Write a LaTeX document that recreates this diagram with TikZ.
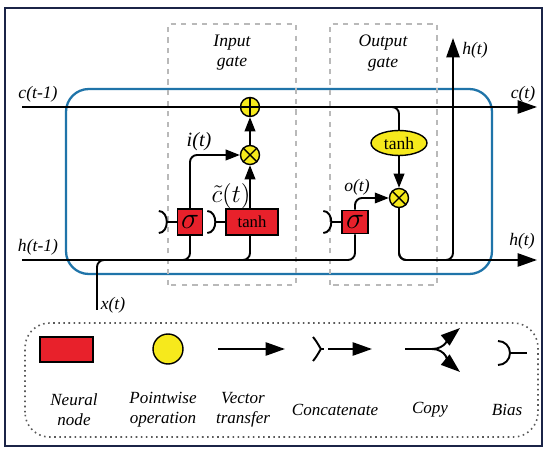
\documentclass[tikz,border=0pt]{standalone}
\usepackage{fontspec}
\setmainfont{Liberation Serif}
\usetikzlibrary{calc,arrows.meta,shapes.geometric}
\definecolor{nodered}{HTML}{E8212B}
\definecolor{opyellow}{HTML}{F6E91C}
\definecolor{cellblue}{HTML}{1F74A9}
\definecolor{framenavy}{HTML}{1B2447}
\newcommand{\biasmark}[3]{\draw[line width=1.1pt] ($(#1)+(-#2,#3)$) to[out=0,in=90] (#1) to[out=-90,in=0] ($(#1)+(-#2,-#3)$);}
\newcommand{\sgm}{\fontsize{16}{16}\selectfont$\sigma$}

\begin{document}
\begin{tikzpicture}[x=0.02cm, y=0.02cm,
        neural/.style={draw=black, fill=nodered, line width=0.8pt, minimum height=0.52cm, inner sep=0pt},
        pointwise/.style={circle, draw=black, fill=opyellow, line width=0.8pt, minimum size=0.38cm, inner sep=0pt},
        flow/.style={line width=1.1pt, rounded corners=4pt},
        tip/.style={-{Triangle[length=8pt,width=6pt]}},
        bigtip/.style={-{Triangle[length=11pt,width=7.5pt]}},
        gate/.style={draw=gray!55, dashed, line width=0.9pt},
        lbl/.style={font=\itshape\fontsize{10}{11}\selectfont, inner sep=1pt},
        caption/.style={align=center, font=\itshape\fontsize{9.7}{11.4}\selectfont},
    ]

    % Frame
    \useasboundingbox (0,0) rectangle (550,456);
    \fill[white] (0,0) rectangle (550,456);
    \draw[framenavy, line width=1.6pt] (5,10) rectangle (542,448);

    % Cell and gates
    \draw[cellblue, line width=1.3pt, rounded corners=13pt] (66,182) rectangle (492,367);
    \draw[gate] (168,171) rectangle (296,432);
    \draw[gate] (330,171) rectangle (437,432);
    \node[caption, font=\itshape\fontsize{10}{11.5}\selectfont] (ingate) at (232,403) {Input\\gate};
    \node[caption, font=\itshape\fontsize{10}{11.5}\selectfont] (outgate) at (383,403) {Output\\gate};

    % Nodes
    \node[pointwise] (plus) at (250,349) {};
    \node[pointwise] (mul1) at (250,301) {};
    \node[neural, minimum width=1.04cm] (tanh1) at (252,234) {\fontsize{9.5}{10}\selectfont tanh};
    \node[neural, minimum width=0.5cm] (sig1) at (190,234) {\sgm};
    \node[neural, minimum width=0.52cm, minimum height=0.47cm] (sig2) at (355,234) {\sgm};
    \node[pointwise] (mul2) at (399,258) {};
    \node[ellipse, draw=black, fill=opyellow, line width=0.8pt, minimum width=1.12cm, minimum height=0.5cm, inner sep=0pt] (tanh2) at (399,313) {\fontsize{10}{10}\selectfont tanh};
    \draw[line width=0.8pt] (plus.north) -- (plus.south) (plus.west) -- (plus.east);
    \foreach \m in {mul1,mul2}
    \draw[line width=0.8pt] (\m.north east) -- (\m.south west) (\m.north west) -- (\m.south east);

    % Connectors
    \coordinate (cin) at (22,349); \coordinate (cout) at (537,349);
    \coordinate (hin) at (22,196); \coordinate (hout) at (537,196);
    \coordinate (xin) at (97,146); \coordinate (hup) at (453,418);
    \coordinate (cbr) at (388,349);
    \draw[flow] (cin) -- (plus);
    \draw[flow, bigtip] (plus) -- (cout);
    \draw[flow, tip] (mul1) -- (plus);
    \draw[flow, tip] (tanh1.north -| mul1) -- (mul1);
    \draw[flow, tip] (sig1.north) |- (mul1);
    \draw[flow] (hin) -| (sig2.south);
    \draw[flow] (sig1.south) |- (hin);
    \draw[flow] (tanh1.south -| mul1) |- (hin);
    \draw[flow] (xin) |- (sig1 |- hin);
    \draw[flow, tip] (sig2.north) |- (mul2);
    \draw[flow] (cbr) -| (tanh2.north);
    \draw[flow, tip] (tanh2) -- (mul2);
    \draw[flow, bigtip] (mul2) |- (hout);
    \draw[flow, bigtip] (mul2) |- (hup |- hout) -- (hup);

    % Biases
    \draw[flow] (sig1.west) -- ++(-10,0) coordinate (b1); \biasmark{b1}{8}{11}
    \draw[flow] (tanh1.west) -- ++(-10,0) coordinate (b2); \biasmark{b2}{8}{11}
    \draw[flow] (sig2.west) -- ++(-10,0) coordinate (b3); \biasmark{b3}{8}{11}

    % Labels
    \node[lbl] (lc0) at (38,362) {c(t-1)};
    \node[lbl] (lc1) at (523,362) {c(t)};
    \node[lbl] (lh0) at (38,209) {h(t-1)};
    \node[lbl] (lh1) at (522,215) {h(t)};
    \node[lbl] (lhup) at (475,406) {h(t)};
    \node[lbl] (lx) at (113,151) {x(t)};
    \node[lbl, font=\itshape\fontsize{11.5}{12}\selectfont] (li) at (199,314) {i(t)};
    \node[lbl] (lo) at (357,269) {o(t)};
    \node[inner sep=1pt] (lct) at (231,260) {\fontsize{14}{14}\selectfont$\tilde{c}(t)$};

    % Legend
    \draw[gray!70!black, dotted, line width=0.9pt, rounded corners=14pt] (25,19) rectangle (538,133);
    \node[neural, minimum width=1.06cm, minimum height=0.5cm] (keynode) at (66.5,106.5) {};
    \node[pointwise, minimum size=0.6cm] (keyop) at (168,107) {};
    \coordinate (va) at (218,107); \coordinate (vb) at (285,107);
    \draw[flow, bigtip] (va) -- (vb);
    \coordinate (ca) at (313,119); \coordinate (cj) at (328,107);
    \coordinate (cc) at (313,95); \coordinate (cb) at (372,107);
    \draw[flow] (ca) to[out=-50,in=180] (cj) to[out=180,in=50] (cc);
    \draw[flow, bigtip] (cj) -- (cb);
    \coordinate (pa) at (405,107); \coordinate (pj) at (432,107);
    \coordinate (pu) at (460,128); \coordinate (pd) at (460,84);
    \draw[flow] (pa) -- (pj);
    \draw[flow, bigtip] (pj) to[out=0,in=220] (pu);
    \draw[flow, bigtip] (pj) to[out=0,in=140] (pd);
    \coordinate (bj) at (510,103); \coordinate (bk) at (527,103);
    \draw[flow] (bj) -- (bk); \biasmark{bj}{12}{12}

    \node[caption] (k1) at (74,46) {Neural\\node};
    \node[caption] (k2) at (163,46) {Pointwise\\operation};
    \node[caption] (k3) at (243,46) {Vector\\transfer};
    \node[caption] (k4) at (335,46) {Concatenate};
    \node[caption] (k5) at (430,46) {Copy};
    \node[caption] (k6) at (507,46) {Bias};
\end{tikzpicture}
\end{document}
